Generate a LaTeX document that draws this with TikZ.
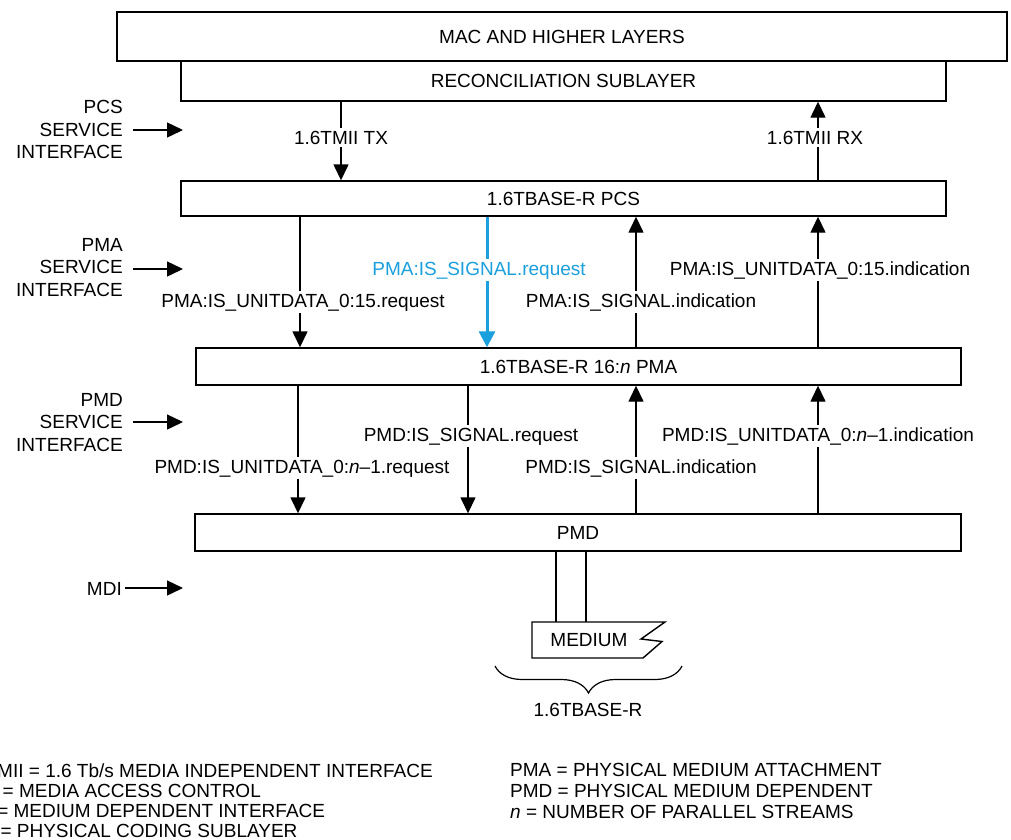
\documentclass[tikz,border=0pt]{standalone}
\usepackage{fontspec}
\setmainfont{Liberation Sans}
\usetikzlibrary{arrows.meta,decorations.pathreplacing}
\definecolor{sigblue}{RGB}{26,160,220}

\begin{document}
\begin{tikzpicture}[x=1pt,y=-1pt,
  every node/.style={font=\fontsize{19}{22.5}\selectfont},
  layer/.style={draw, line width=1.4pt, inner sep=0pt, text height=13.6pt, text depth=0pt},
  ctext/.style={inner sep=0pt, text height=13.6pt, text depth=0pt},
  lbl/.style={fill=white, inner sep=2.5pt, anchor=base},
  side/.style={align=right, inner sep=0pt, anchor=north east},
  arr/.style={line width=1.4pt, -{Triangle[width=15pt,length=16pt]}},
  bluearr/.style={line width=3pt, sigblue, -{Triangle[width=16pt,length=16pt]}},
  legend/.style={anchor=base west, inner sep=0pt}]

\useasboundingbox (0,0) rectangle (1011,839);

% layer boxes
\node[layer, minimum width=890pt, minimum height=49pt] (mac) at (562,36.5) {MAC AND HIGHER LAYERS};
\node[layer, minimum width=765pt, minimum height=40pt] (rs) at (563.5,81) {RECONCILIATION SUBLAYER};
\node[layer, minimum width=765pt, minimum height=35pt] (pcs) at (563.5,198.5) {1.6TBASE-R PCS};
\node[layer, minimum width=765pt, minimum height=37pt] (pma) at (578.5,366.5) {1.6TBASE-R 16:\textit{n} PMA};
\node[layer, minimum width=766pt, minimum height=37pt] (pmd) at (578,532.5) {PMD};

% connector columns
\coordinate (ctx) at (341,0);
\coordinate (crx) at (818,0);
\coordinate (a1) at (300,0);
\coordinate (a2) at (487,0);
\coordinate (a3) at (636,0);
\coordinate (a4) at (818,0);
\coordinate (b1) at (298,0);
\coordinate (b2) at (468,0);
\coordinate (b3) at (636,0);
\coordinate (b4) at (818,0);

% RS <-> PCS
\draw[arr] (rs.south -| ctx) -- (pcs.north -| ctx);
\draw[arr] (pcs.north -| crx) -- (rs.south -| crx);

% PCS <-> PMA
\draw[arr] (pcs.south -| a1) -- (pma.north -| a1);
\draw[bluearr] (pcs.south -| a2) -- (pma.north -| a2);
\draw[arr] (pma.north -| a3) -- (pcs.south -| a3);
\draw[arr] (pma.north -| a4) -- (pcs.south -| a4);

% PMA <-> PMD
\draw[arr] (pma.south -| b1) -- (pmd.north -| b1);
\draw[arr] (pma.south -| b2) -- (pmd.north -| b2);
\draw[arr] (pmd.north -| b3) -- (pma.south -| b3);
\draw[arr] (pmd.north -| b4) -- (pma.south -| b4);

% primitive labels
\node[lbl] (ltx) at (341,144) {1.6TMII TX};
\node[lbl] (lrx) at (815,144) {1.6TMII RX};
\node[lbl, text=sigblue] (la2) at (479,275) {PMA:IS\_SIGNAL.request};
\node[lbl] (la4) at (820,275) {PMA:IS\_UNITDATA\_0:15.indication};
\node[lbl] (la1) at (303,307) {PMA:IS\_UNITDATA\_0:15.request};
\node[lbl] (la3) at (641,307) {PMA:IS\_SIGNAL.indication};
\node[lbl] (lb2) at (471,441) {PMD:IS\_SIGNAL.request};
\node[lbl] (lb4) at (818,441) {PMD:IS\_UNITDATA\_0:\textit{n}--1.indication};
\node[lbl] (lb1) at (302,473) {PMD:IS\_UNITDATA\_0:\textit{n}--1.request};
\node[lbl] (lb3) at (641,473) {PMD:IS\_SIGNAL.indication};

% service interface markers
\node[side] (pcsif) at (123,100.2) {PCS\\SERVICE\\INTERFACE};
\node[side] (pmaif) at (123,238.2) {PMA\\SERVICE\\INTERFACE};
\node[side] (pmdif) at (123,393.2) {PMD\\SERVICE\\INTERFACE};
\node[anchor=base east, inner sep=0pt] (mdi) at (122,595) {MDI};

\coordinate (pcsifA) at (133,130);
\coordinate (pcsifB) at (183,130);
\coordinate (pmaifA) at (133,269);
\coordinate (pmaifB) at (183,269);
\coordinate (pmdifA) at (133,422);
\coordinate (pmdifB) at (183,422);
\coordinate (mdiA) at (125,588);
\coordinate (mdiB) at (183,588);
\draw[arr] (pcsifA) -- (pcsifB);
\draw[arr] (pmaifA) -- (pmaifB);
\draw[arr] (pmdifA) -- (pmdifB);
\draw[arr] (mdiA) -- (mdiB);

% medium attachment
\coordinate (m1) at (556,622);
\coordinate (m2) at (586,622);
\draw[line width=1.4pt] (pmd.south -| m1) -- (m1);
\draw[line width=1.4pt] (pmd.south -| m2) -- (m2);
\draw[line width=1.4pt, line join=miter] (532,622) -- (665,622) -- (641,639) -- (662,641.5) -- (643,658) -- (532,658) -- cycle;
\node[ctext] (medium) at (589,640) {MEDIUM};

% PHY extent brace
\draw[line width=1.2pt, decorate, decoration={brace, mirror, amplitude=27pt}] (495,666) -- (682,666);
\node[ctext] (phy) at (588,710) {1.6TBASE-R};

% abbreviations
\node[legend] (g1) at (-41,777) {1.6TMII = 1.6 Tb/s MEDIA INDEPENDENT INTERFACE};
\node[legend] (g2) at (-45,797) {MAC = MEDIA ACCESS CONTROL};
\node[legend] (g3) at (-43,817) {MDI = MEDIUM DEPENDENT INTERFACE};
\node[legend] (g4) at (-44,837) {PCS = PHYSICAL CODING SUBLAYER};
\node[legend] (g5) at (510,776) {PMA = PHYSICAL MEDIUM ATTACHMENT};
\node[legend] (g6) at (510,797) {PMD = PHYSICAL MEDIUM DEPENDENT};
\node[legend] (g7) at (510,818) {\textit{n} = NUMBER OF PARALLEL STREAMS};

\end{tikzpicture}
\end{document}
